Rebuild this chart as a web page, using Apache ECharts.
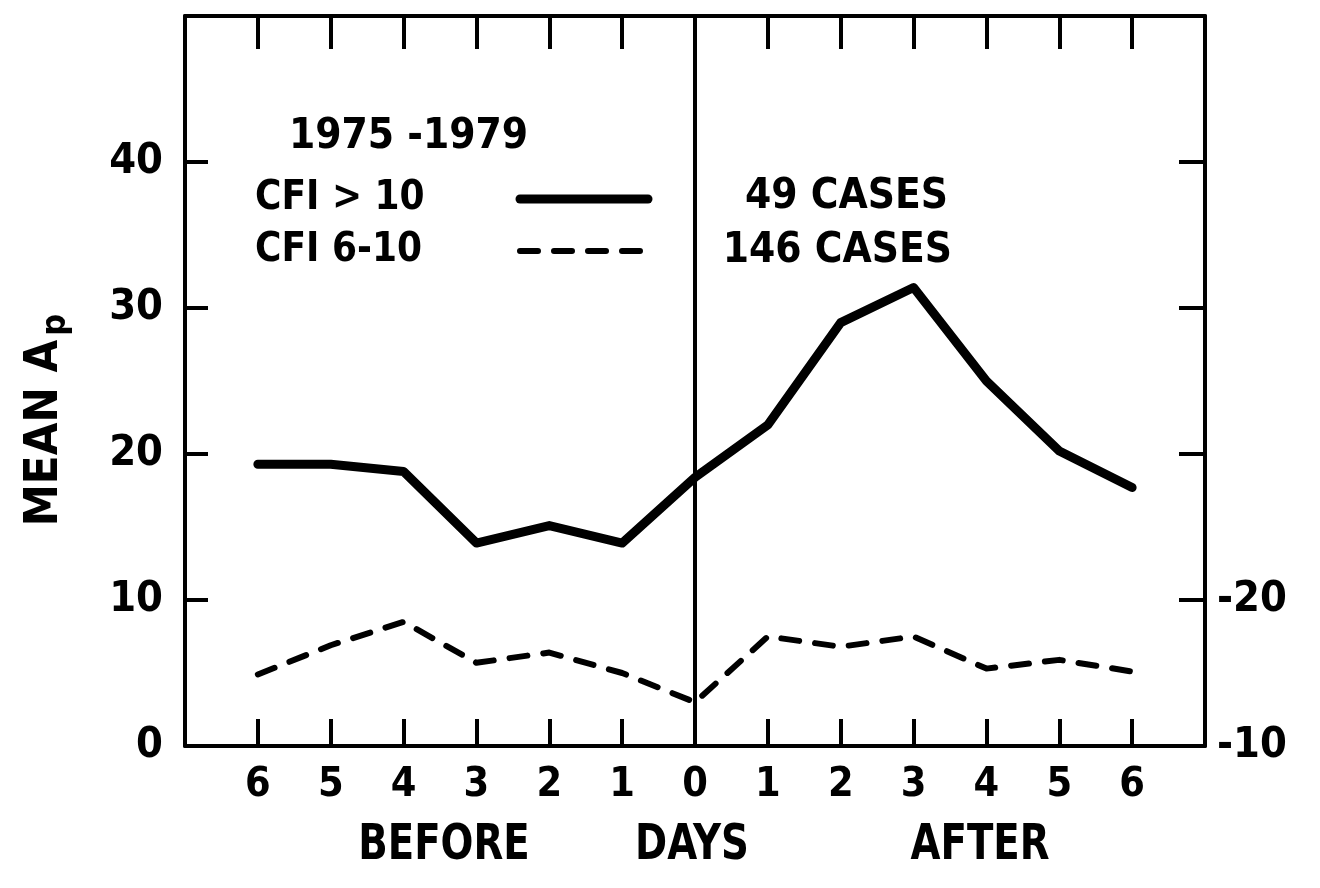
<!DOCTYPE html>
<html>
<head>
<meta charset="utf-8">
<title>Mean Ap around CFI events, 1975-1979</title>
<script src="https://cdn.jsdelivr.net/npm/echarts@6/dist/echarts.min.js"></script>
<style>
  html, body { margin: 0; padding: 0; background: #fff; }
  #chart { width: 1320px; height: 888px; }
</style>
</head>
<body>
<div id="chart"></div>
<script>
// Days relative to the event (negative = before, positive = after)
const days = [-6, -5, -4, -3, -2, -1, 0, 1, 2, 3, 4, 5, 6];
const dayLabels = ['6', '5', '4', '3', '2', '1', '0', '1', '2', '3', '4', '5', '6'];

// Mean Ap for each day
const cfiAbove10 = [19.3, 19.3, 18.8, 13.9, 15.1, 13.9, 18.4, 22.0, 29.0, 31.4, 25.0, 20.2, 17.7];
const cfi6to10 = [4.9, 6.9, 8.5, 5.7, 6.4, 5.0, 3.0, 7.5, 6.8, 7.5, 5.3, 5.9, 5.1];

// Axis tick labels
const leftTickValues = [0, 10, 20, 30, 40];
const leftTickLabels = ['0', '10', '20', '30', '40'];
const rightTickValues = [0, 10];
const rightTickLabels = ['-10', '-20'];

// Legend and annotation texts
const seriesNames = ['CFI > 10', 'CFI 6-10'];
const caseCounts = ['49 CASES', '146 CASES'];
const periodLabel = '1975 -1979';
const sideLabels = ['BEFORE', 'DAYS', 'AFTER'];

const NUM_FONT = "'DejaVu Sans Condensed', 'DejaVu Sans', sans-serif";
const TXT_FONT = "'DejaVu Sans Condensed', 'DejaVu Sans', sans-serif";
const INK = '#000';

function pairs(vals) {
  return days.map((d, i) => [d, vals[i]]);
}
function dayLabel(v) {
  const i = days.indexOf(v);
  return i < 0 ? '' : dayLabels[i];
}
function leftLabel(v) {
  const i = leftTickValues.indexOf(v);
  return i < 0 ? '' : leftTickLabels[i];
}
function rightLabel(v) {
  const i = rightTickValues.indexOf(v);
  return i < 0 ? '' : rightTickLabels[i];
}

const chart = echarts.init(document.getElementById('chart'), null, { renderer: 'canvas' });

const axisLine = { show: true, onZero: false, lineStyle: { color: INK, width: 4 } };
const numLabel = { fontFamily: NUM_FONT, fontSize: 43, fontWeight: 'bold', color: INK };

function sideText(text, x) {
  return {
    type: 'text', x: x, y: 846, scaleX: 0.86,
    style: { text: text, align: 'center', verticalAlign: 'middle', fontFamily: TXT_FONT, fontSize: 50, fontWeight: 'bold', fill: INK }
  };
}

chart.setOption({
  animation: false,
  backgroundColor: '#fff',
  grid: { left: 185, right: 115, top: 16, bottom: 142, containLabel: false },
  title: {
    text: periodLabel,
    left: 284, top: 111,
    textStyle: { fontFamily: TXT_FONT, fontSize: 42, fontWeight: 'bold', color: INK }
  },
  legend: {
    data: seriesNames,
    orient: 'vertical',
    left: 250, top: 174,
    align: 'right',
    itemWidth: 128, itemHeight: 20, itemGap: 12,
    selectedMode: false,
    itemStyle: { opacity: 0 },
    lineStyle: { width: 'inherit' },
    formatter: n => '{n|' + n + '}',
    textStyle: {
      rich: { n: { width: 260, align: 'left', fontSize: 40, lineHeight: 42, fontFamily: TXT_FONT, fontWeight: 'bold', color: INK } }
    }
  },
  xAxis: [
    {
      type: 'value', position: 'bottom', min: -7, max: 7, interval: 1,
      axisLine: axisLine,
      axisTick: { show: true, inside: true, length: 27, lineStyle: { color: INK, width: 4 } },
      axisLabel: Object.assign({ formatter: dayLabel, margin: 19 }, numLabel, { fontSize: 41 }),
      splitLine: { show: false }
    },
    {
      type: 'value', position: 'top', min: -7, max: 7, interval: 1,
      axisLine: axisLine,
      axisTick: { show: true, inside: true, length: 33, lineStyle: { color: INK, width: 4 } },
      axisLabel: { show: false },
      splitLine: { show: false }
    }
  ],
  yAxis: [
    {
      type: 'value', position: 'left', min: 0, max: 50, interval: 10,
      axisLine: axisLine,
      axisTick: { show: true, inside: true, length: 23, lineStyle: { color: INK, width: 4 } },
      axisLabel: Object.assign({ formatter: leftLabel, margin: 22 }, numLabel),
      splitLine: { show: false }
    },
    {
      type: 'value', position: 'right', min: 0, max: 50, interval: 10,
      axisLine: axisLine,
      axisTick: { show: true, inside: true, length: 26, lineStyle: { color: INK, width: 4 } },
      axisLabel: Object.assign({ formatter: rightLabel, margin: 12 }, numLabel),
      splitLine: { show: false }
    }
  ],
  series: [
    {
      name: seriesNames[0], type: 'line', xAxisIndex: 0, yAxisIndex: 0,
      data: pairs(cfiAbove10),
      symbol: 'none', silent: true,
      itemStyle: { color: INK },
      lineStyle: { color: INK, width: 9, type: 'solid', cap: 'round', join: 'round' },
      markLine: {
        silent: true, symbol: 'none', animation: false,
        label: { show: false },
        lineStyle: { color: INK, width: 4, type: 'solid' },
        data: [{ xAxis: 0 }]
      },
      z: 3
    },
    {
      name: seriesNames[1], type: 'line', xAxisIndex: 0, yAxisIndex: 0,
      data: pairs(cfi6to10),
      symbol: 'none', silent: true,
      itemStyle: { color: INK },
      lineStyle: { color: INK, width: 6, type: [18, 16], cap: 'round', join: 'round' },
      z: 3
    }
  ],
  graphic: [
    {
      type: 'text', right: 1320 - 948, top: 176,
      style: { text: caseCounts[0], fontFamily: TXT_FONT, fontSize: 42, fontWeight: 'bold', fill: INK }
    },
    {
      type: 'text', right: 1320 - 952, top: 230,
      style: { text: caseCounts[1], fontFamily: TXT_FONT, fontSize: 42, fontWeight: 'bold', fill: INK }
    },
    sideText(sideLabels[0], 444),
    sideText(sideLabels[1], 692),
    sideText(sideLabels[2], 980),
    {
      type: 'text', x: 45, y: 420, rotation: Math.PI / 2,
      style: {
        text: '{a|MEAN A}{s|p}',
        align: 'center', verticalAlign: 'middle',
        rich: {
          a: { fontFamily: TXT_FONT, fontSize: 47, fontWeight: 'bold', fill: INK, lineHeight: 46 },
          s: { fontFamily: TXT_FONT, fontSize: 34, fontWeight: 'bold', fill: INK, padding: [22, 0, 0, 4], lineHeight: 46 }
        }
      }
    }
  ]
});
</script>
</body>
</html>
